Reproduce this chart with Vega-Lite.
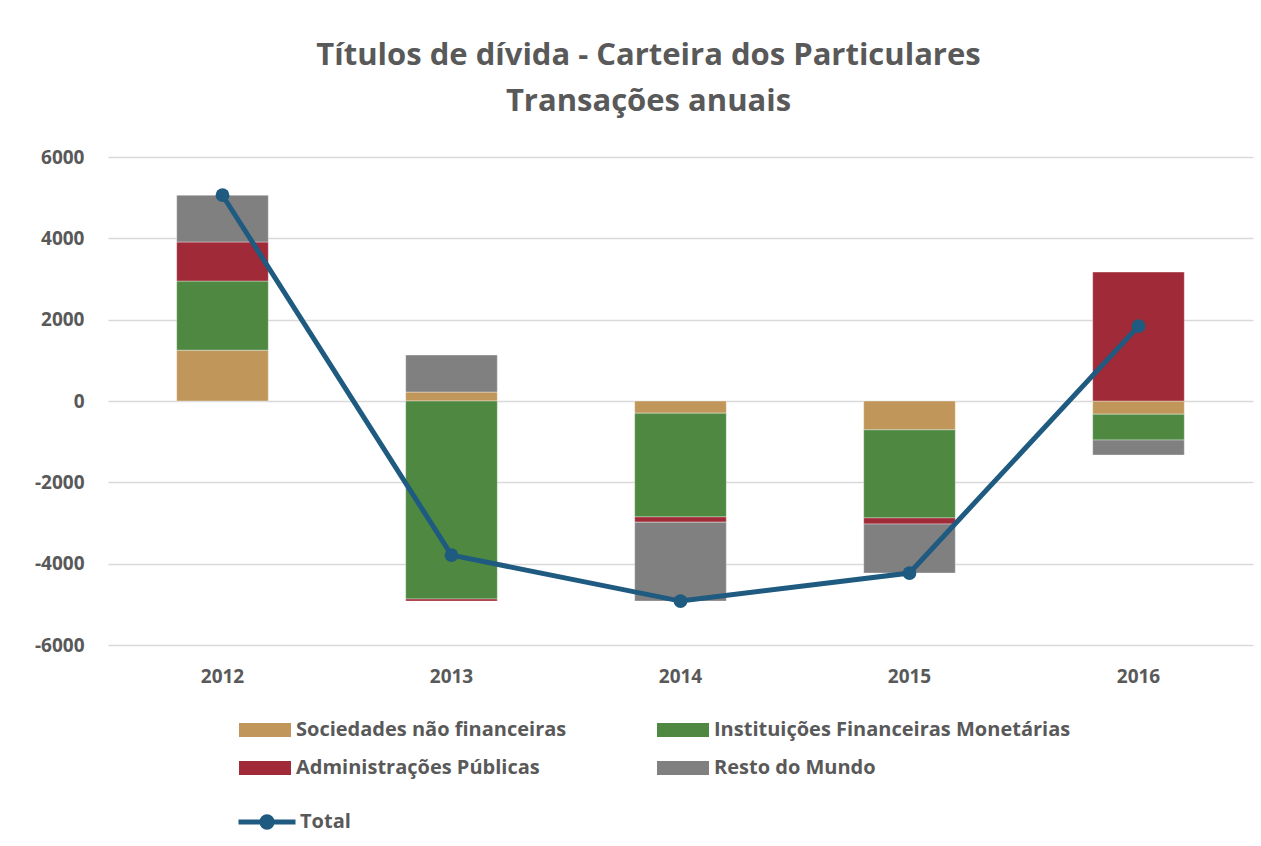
{
  "$schema": "https://vega.github.io/schema/vega-lite/v6.json",
  "width": 1145,
  "height": 488,
  "autosize": {"type": "none"},
  "padding": {"left": 108, "top": 157, "right": 8, "bottom": 201},
  "background": "white",
  "title": {
    "text": ["Títulos de dívida - Carteira dos Particulares", "Transações anuais"],
    "font": "Open Sans",
    "fontSize": 31,
    "fontWeight": "bold",
    "color": "#595959",
    "anchor": "middle",
    "dx": -32,
    "offset": 30,
    "lineHeight": 46
  },
  "config": {
    "view": {"stroke": null},
    "font": "Open Sans"
  },
  "datasets": {
    "sectors": [
      {"ano": "2012", "setor": "Sociedades não financeiras", "k": 1, "valor": 1250},
      {"ano": "2012", "setor": "Instituições Financeiras Monetárias", "k": 2, "valor": 1700},
      {"ano": "2012", "setor": "Administrações Públicas", "k": 3, "valor": 960},
      {"ano": "2012", "setor": "Resto do Mundo", "k": 4, "valor": 1150},
      {"ano": "2013", "setor": "Sociedades não financeiras", "k": 1, "valor": 220},
      {"ano": "2013", "setor": "Instituições Financeiras Monetárias", "k": 2, "valor": -4870},
      {"ano": "2013", "setor": "Administrações Públicas", "k": 3, "valor": -50},
      {"ano": "2013", "setor": "Resto do Mundo", "k": 4, "valor": 910},
      {"ano": "2014", "setor": "Sociedades não financeiras", "k": 1, "valor": -300},
      {"ano": "2014", "setor": "Instituições Financeiras Monetárias", "k": 2, "valor": -2550},
      {"ano": "2014", "setor": "Administrações Públicas", "k": 3, "valor": -130},
      {"ano": "2014", "setor": "Resto do Mundo", "k": 4, "valor": -1940},
      {"ano": "2015", "setor": "Sociedades não financeiras", "k": 1, "valor": -710},
      {"ano": "2015", "setor": "Instituições Financeiras Monetárias", "k": 2, "valor": -2165},
      {"ano": "2015", "setor": "Administrações Públicas", "k": 3, "valor": -150},
      {"ano": "2015", "setor": "Resto do Mundo", "k": 4, "valor": -1205},
      {"ano": "2016", "setor": "Sociedades não financeiras", "k": 1, "valor": -325},
      {"ano": "2016", "setor": "Instituições Financeiras Monetárias", "k": 2, "valor": -635},
      {"ano": "2016", "setor": "Administrações Públicas", "k": 3, "valor": 3170},
      {"ano": "2016", "setor": "Resto do Mundo", "k": 4, "valor": -370}
    ],
    "total": [
      {"ano": "2012", "serie": "Total", "valor": 5060},
      {"ano": "2013", "serie": "Total", "valor": -3790},
      {"ano": "2014", "serie": "Total", "valor": -4920},
      {"ano": "2015", "serie": "Total", "valor": -4230},
      {"ano": "2016", "serie": "Total", "valor": 1840}
    ]
  },
  "encoding": {
    "x": {
      "field": "ano",
      "type": "nominal",
      "title": null,
      "scale": {"paddingInner": 0.6, "paddingOuter": 0.3},
      "axis": {
        "labelAngle": 0,
        "labelFont": "Open Sans",
        "labelFontSize": 19,
        "labelFontWeight": "bold",
        "labelColor": "#595959",
        "labelPadding": 22,
        "ticks": false,
        "domain": false
      }
    }
  },
  "layer": [
    {
      "data": {"name": "sectors"},
      "mark": {"type": "bar", "stroke": "#ffffff", "strokeWidth": 0.6, "strokeOpacity": 0.6},
      "encoding": {
        "y": {
          "field": "valor",
          "type": "quantitative",
          "stack": "zero",
          "title": null,
          "scale": {"domain": [-6000, 6000], "nice": false},
          "axis": {
            "values": [-6000, -4000, -2000, 0, 2000, 4000, 6000],
            "labelExpr": "datum.value + ''",
            "labelFont": "Open Sans",
            "labelFontSize": 19,
            "labelFontWeight": "bold",
            "labelColor": "#595959",
            "labelPadding": 24,
            "ticks": false,
            "domain": false,
            "gridColor": "#D9D9D9",
            "gridWidth": 1.5
          }
        },
        "color": {
          "field": "setor",
          "type": "nominal",
          "scale": {
            "domain": ["Sociedades não financeiras", "Administrações Públicas", "Instituições Financeiras Monetárias", "Resto do Mundo"],
            "range": ["#C0965A", "#A02A37", "#4E8841", "#808080"]
          },
          "legend": {
            "title": null,
            "orient": "none",
            "legendX": 131,
            "legendY": 547,
            "columns": 2,
            "columnPadding": 90,
            "rowPadding": 2,
            "symbolType": "M-1,-0.27H1V0.27H-1Z",
            "symbolSize": 2704,
            "symbolStrokeWidth": 0,
            "labelFont": "Open Sans",
            "labelFontSize": 20,
            "labelFontWeight": "bold",
            "labelColor": "#595959",
            "labelOffset": 5,
            "labelLimit": 500
          }
        },
        "order": {"field": "k", "type": "quantitative"}
      }
    },
    {
      "data": {"name": "total"},
      "mark": {
        "type": "line",
        "strokeWidth": 5,
        "point": {"filled": true, "size": 190, "color": "#1F5A80", "fill": "#1F5A80", "strokeWidth": 0}
      },
      "encoding": {
        "y": {"field": "valor", "type": "quantitative"},
        "stroke": {
          "field": "serie",
          "type": "nominal",
          "scale": {"domain": ["Total"], "range": ["#1F5A80"]},
          "legend": {
            "title": null,
            "orient": "none",
            "legendX": 128,
            "legendY": 634,
            "symbolType": "M-1,0H-0.18M0.18,0H1M0.18,0A0.18,0.18,0,1,1,-0.18,0A0.18,0.18,0,1,1,0.18,0Z",
            "symbolSize": 3249,
            "symbolStrokeWidth": 5,
            "symbolFillColor": "#1F5A80",
            "labelFont": "Open Sans",
            "labelFontSize": 20,
            "labelFontWeight": "bold",
            "labelColor": "#595959",
            "labelOffset": 2
          }
        }
      }
    }
  ]
}
